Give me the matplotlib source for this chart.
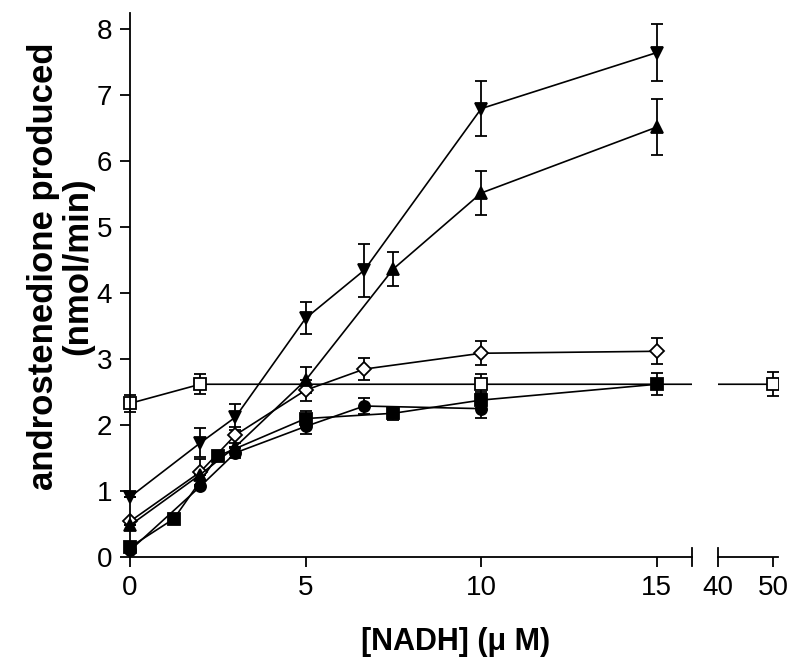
import matplotlib.pyplot as plt
import numpy as np

# [NADH] (uM) and rates (nmol/min)
x_down = [0, 2, 3, 5, 6.67, 10, 15]
y_down = [0.91, 1.73, 2.12, 3.62, 4.35, 6.8, 7.65]
e_down = [0, 0.22, 0.2, 0.24, 0.4, 0.42, 0.43]

x_up = [0, 2, 3, 5, 7.5, 10, 15]
y_up = [0.48, 1.25, 1.67, 2.68, 4.37, 5.52, 6.52]
e_up = [0, 0, 0, 0.2, 0.26, 0.33, 0.42]

x_dia = [0, 2, 3, 5, 6.67, 10, 15]
y_dia = [0.54, 1.29, 1.85, 2.53, 2.85, 3.09, 3.12]
e_dia = [0, 0.2, 0.12, 0.16, 0.17, 0.18, 0.2]

x_osq = [0, 2, 10, 50]
y_osq = [2.33, 2.62, 2.62, 2.62]
e_osq = [0.13, 0.15, 0.15, 0.18]

x_fsq = [0, 1.25, 2.5, 5, 7.5, 10, 15]
y_fsq = [0.15, 0.58, 1.53, 2.1, 2.18, 2.38, 2.62]
e_fsq = [0, 0, 0, 0.12, 0.1, 0.12, 0.17]

x_cir = [0, 2, 3, 5, 6.67, 10]
y_cir = [0.1, 1.07, 1.58, 1.98, 2.29, 2.25]
e_cir = [0, 0, 0.08, 0.12, 0.12, 0.14]

series = [
    (x_osq, y_osq, e_osq, 's', 'white'),
    (x_fsq, y_fsq, e_fsq, 's', 'black'),
    (x_cir, y_cir, e_cir, 'o', 'black'),
    (x_dia, y_dia, e_dia, 'D', 'white'),
    (x_up, y_up, e_up, '^', 'black'),
    (x_down, y_down, e_down, 'v', 'black'),
]

plt.rcParams['font.family'] = ['Liberation Sans', 'DejaVu Sans']

fig = plt.figure(figsize=(8, 6.69), dpi=100)
ax1 = fig.add_axes([0.1405, 0.1378, 0.7245, 0.8428])
ax2 = fig.add_axes([0.8975, 0.1378, 0.0756, 0.8428])

for ax in (ax1, ax2):
    for xs, ys, es, m, fc in series:
        ms = 7 if m == 'D' else 8
        ax.errorbar(xs, ys, yerr=es, fmt='-', marker=m, color='black', mfc=fc,
                    mec='black', ms=ms, mew=1.3, lw=1.2, elinewidth=1.3,
                    capsize=4.5, capthick=1.3)
    ax.set_ylim(-0.3, 8.25)
    ax.spines['top'].set_visible(False)
    ax.spines['right'].set_visible(False)
    ax.spines['bottom'].set_position(('data', 0))
    ax.spines['bottom'].set_linewidth(1.3)
    ax.tick_params(direction='out', length=7, width=1.3, labelsize=20, pad=6)

ax1.set_xlim(-0.5, 16)
ax1.spines['left'].set_position(('data', 0))
ax1.spines['left'].set_linewidth(1.3)
ax1.spines['left'].set_bounds(0, 8.25)
ax1.spines['bottom'].set_bounds(0, 16)
ax1.set_xticks([0, 5, 10, 15])
ax1.set_yticks(range(0, 9))
# break marks at the ends of the two axis pieces
ax1.plot([16, 16], [-0.13, 0.13], color='black', lw=1.3, clip_on=False)

ax2.set_xlim(40, 51)
ax2.spines['left'].set_visible(False)
ax2.spines['bottom'].set_bounds(40, 51)
ax2.set_xticks([40, 50])
ax2.set_yticks([])
ax2.plot([40, 40], [0, 0.13], color='black', lw=1.3, clip_on=False)

fig.text(0.076, 1 - 266 / 669, 'androstenedione produced\n(nmol/min)', rotation=90,
         ha='center', va='center', fontsize=25, fontweight='bold', linespacing=1.05)
fig.text(0.57, 0.04, '[NADH] (\u03bc M)', ha='center', va='center', fontsize=22,
         fontweight='bold')

fig.savefig('out.png', dpi=100)
